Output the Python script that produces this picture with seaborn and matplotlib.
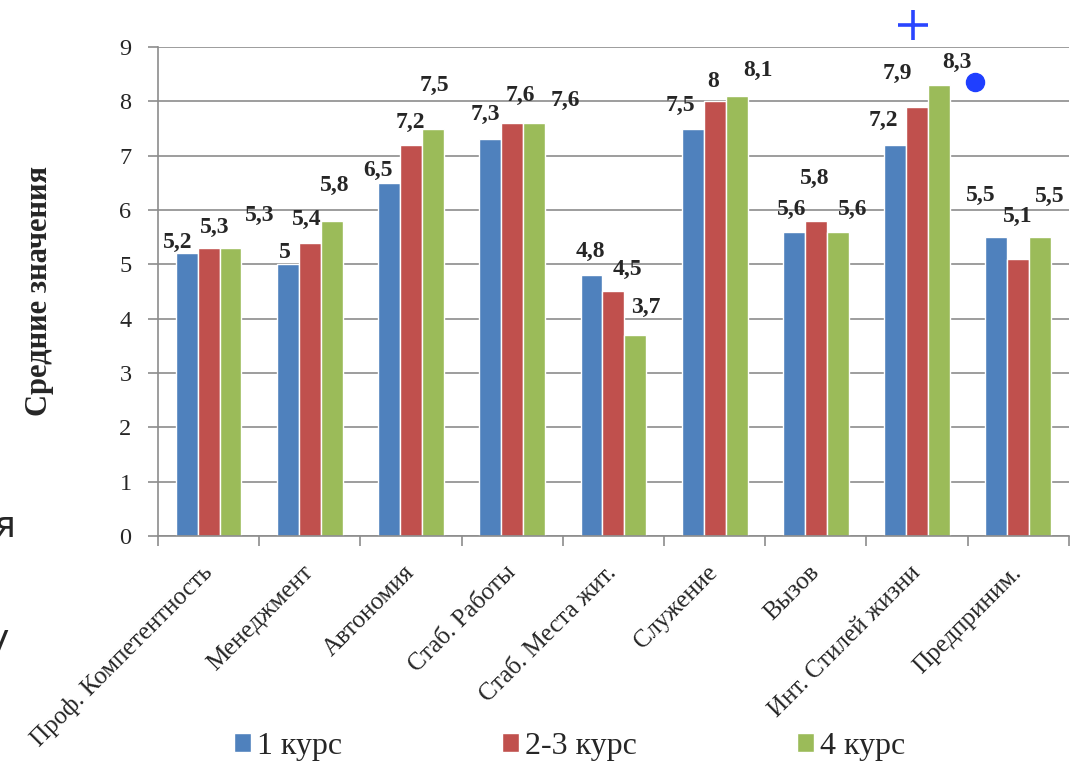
import pandas as pd
import seaborn as sns
import matplotlib.pyplot as plt
from matplotlib.lines import Line2D
import numpy as np

# Data
categories = ['Проф. Компетентность', 'Менеджмент', 'Автономия', 'Стаб. Работы',
              'Стаб. Места жит.', 'Служение', 'Вызов', 'Инт. Стилей жизни', 'Предприним.']
series_names = ['1 курс', '2-3 курс', '4 курс']
kurs_1 = [5.2, 5.0, 6.5, 7.3, 4.8, 7.5, 5.6, 7.2, 5.5]
kurs_2_3 = [5.3, 5.4, 7.2, 7.6, 4.5, 8.0, 5.8, 7.9, 5.1]
kurs_4 = [5.3, 5.8, 7.5, 7.6, 3.7, 8.1, 5.6, 8.3, 5.5]
y_ticks = list(range(0, 10))

colors = ['#4F81BD', '#C0504D', '#9BBB59']

# label offsets (pixels, right / up) from the top centre of each bar
offsets = [
    [(-9, 11), (-3, 12), (-11, 12), (-5, 25), (-1, 24), (-12, 23), (-2, 22), (-12, 24), (-16, 42)],
    [(6, 21), (-3, 23), (-1, 22), (8, 28), (14, 22), (-1, 20), (-1, 42), (-20, 33), (-1, 42)],
    [(29, 33), (3, 35), (2, 43), (31, 23), (10, 28), (21, 25), (15, 22), (18, 23), (10, 41)],
]

df = pd.DataFrame({'Категория': categories * 3,
                   'Курс': np.repeat(series_names, len(categories)),
                   'Значение': kurs_1 + kurs_2_3 + kurs_4})

sns.set_style('white')
plt.rcParams['font.family'] = ['Liberation Serif', 'DejaVu Serif']

fig = plt.figure(figsize=(10.71, 7.67), dpi=100)
ax = fig.add_axes([0.1475, 0.3012, 0.8505, 0.6375])

sns.barplot(data=df, x='Категория', y='Значение', hue='Курс', palette=colors,
            width=0.65, gap=0, saturation=1, ax=ax, legend=True)

ax.set_ylim(0, 9)
ax.set_xlim(-0.5, len(categories) - 0.5)
ax.set_yticks(y_ticks)
ax.yaxis.grid(True, color='#8c8c8c', linewidth=1.2)
ax.set_axisbelow(True)
for s in ['top', 'right']:
    ax.spines[s].set_visible(False)
for s in ['left', 'bottom']:
    ax.spines[s].set_color('#8c8c8c')
    ax.spines[s].set_linewidth(1.2)

ax.tick_params(axis='y', length=7, color='#8c8c8c', width=1.2, labelsize=17.5, pad=12, left=True)
ax.set_xticks(np.arange(len(categories)))
ax.set_xticklabels(categories, rotation=45, ha='right', va='center',
                   rotation_mode='anchor', fontsize=18)
ax.tick_params(axis='x', which='major', length=0, pad=24)
ax.set_xticks(np.arange(len(categories) + 1) - 0.5, minor=True)
ax.tick_params(axis='x', which='minor', length=7, color='#8c8c8c', width=1.2, bottom=True)

ax.set_xlabel('')
ax.set_ylabel('Средние значения', fontsize=22, fontweight='bold')
ax.yaxis.set_label_coords(-0.114, 0.5)

# value labels
px2pt = 72 / fig.dpi
for cont, offs in zip(ax.containers, offsets):
    for bar, (dx, dy) in zip(cont, offs):
        v = bar.get_height()
        ax.annotate(f'{v:g}'.replace('.', ','),
                    (bar.get_x() + bar.get_width() / 2, v),
                    xytext=(dx * px2pt, dy * px2pt), textcoords='offset points',
                    ha='center', va='center', fontsize=17, fontweight='bold')

handles, labels = ax.get_legend_handles_labels()
ax.get_legend().remove()
fig.legend(handles, labels, loc='center', bbox_to_anchor=(0.532, 0.027), ncol=3,
           frameon=False, fontsize=23, handlelength=0.53, handleheight=0.53,
           handletextpad=0.2, columnspacing=5.0)

# slide artefacts
fig.add_artist(Line2D([913 / 1071], [1 - 25 / 767], marker='+', markersize=21,
                      markeredgewidth=2.6, color='#2a45ff', transform=fig.transFigure))
fig.add_artist(Line2D([975 / 1071], [1 - 82 / 767], marker='o', markersize=13,
                      color='#1f3fff', linestyle='none', transform=fig.transFigure))
fig.text(-6 / 1071, 1 - 527 / 767, 'я', fontsize=26, family='DejaVu Sans',
         ha='left', va='center')
fig.text(-12 / 1071, 1 - 640 / 767, 'у', fontsize=26, family='DejaVu Sans',
         ha='left', va='center')

fig.savefig('out.png', dpi=100)
